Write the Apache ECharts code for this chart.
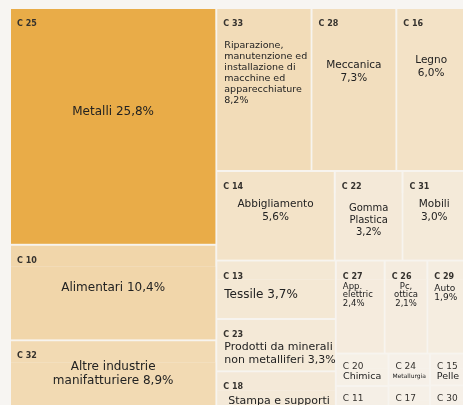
<!DOCTYPE html>
<html>
<head>
<meta charset="utf-8">
<script src="https://cdn.jsdelivr.net/npm/echarts@6/dist/echarts.min.js"></script>
<style>
  html, body { margin: 0; padding: 0; background: #f7f5f2; }
  #chart { width: 463px; height: 405px; }
</style>
</head>
<body>
<div id="chart"></div>
<script>
// codici ATECO nell'ordine in cui vengono disposti
var codes = ['C 25', 'C 10', 'C 32', 'C 33', 'C 28', 'C 16', 'C 14', 'C 22', 'C 31',
  'C 13', 'C 23', 'C 18', 'C 27', 'C 26', 'C 29', 'C 20', 'C 11', 'C 24', 'C 17', 'C 15', 'C 30'];
var labels = ['Metalli 25,8%', 'Alimentari 10,4%', 'Altre industrie\nmanifatturiere 8,9%',
  'Riparazione,\nmanutenzione ed\ninstallazione di\nmacchine ed\napparecchiature\n8,2%',
  'Meccanica\n7,3%', 'Legno\n6,0%', 'Abbigliamento\n5,6%', 'Gomma\nPlastica\n3,2%', 'Mobili\n3,0%',
  'Tessile 3,7%', 'Prodotti da minerali\nnon metalliferi 3,3%', 'Stampa e supporti\nregistrati 3,2%',
  'App.\nelettric\n2,4%', 'Pc,\nottica\n2,1%', 'Auto\n1,9%',
  'Chimica', 'Bevande', 'Metallurgia', 'Carta', 'Pelle', 'Altro'];
// quota % (le ultime sei stimate dall'area)
var shares = [25.8, 10.4, 8.9, 8.2, 7.3, 6.0, 5.6, 3.2, 3.0,
  3.7, 3.3, 3.2, 2.4, 2.1, 1.9, 0.9, 1.0, 0.7, 0.8, 0.6, 0.7];
// blocchi: fascia centrale e parte bassa a destra
var midBlock = ['C 14', 'C 22', 'C 31'];
var lowBlock = ['C 13', 'C 23', 'C 18', 'C 27', 'C 26', 'C 29', 'C 20', 'C 11', 'C 24', 'C 17', 'C 15', 'C 30'];

var sep = '#f7f4ef';
var light = [246, 242, 236], strong = [233, 172, 72];

// stile etichette per cella
var cellStyle = {
  'C 25': { size: 12, y: '38.5%' },
  'C 10': { size: 12, y: '29%' },
  'C 32': { size: 12, y: '19%' },
  'C 33': { size: 9.5, lh: 11, y: '30.7%', x: 7, align: 'left' },
  'C 28': { y: '30%' },
  'C 16': { y: '26%' },
  'C 14': { y: '26%' },
  'C 22': { size: 10, y: '41%' },
  'C 31': { y: '26%' },
  'C 13': { size: 12, y: '40%', x: 7, align: 'left', band: 18 },
  'C 23': { size: 11, lh: 12.5, y: '48%', x: 7, align: 'left', band: 18 },
  'C 18': { size: 11, lh: 12.5, y: '55%', x: 11, align: 'left', band: 18 },
  'C 27': { size: 8.5, lh: 8.5, y: '21%', x: 6, align: 'left', band: 18 },
  'C 26': { size: 8.5, lh: 8.5, y: '21%', band: 18 },
  'C 29': { size: 9, lh: 9, y: '19%', x: 6, align: 'left', band: 18 },
  'C 20': { small: true },
  'C 11': { small: true },
  'C 24': { small: true, size: 6 },
  'C 17': { small: true },
  'C 15': { small: true },
  'C 30': { small: true }
};

function styleOf(code) {
  var s = Object.assign({ size: 10.5, y: '30%', x: '50%', align: 'center', band: 21, codeY: 15 }, cellStyle[code] || {});
  if (s.small) {
    s.band = 14; s.codeY = 12; s.y = '50%';
    if (!cellStyle[code].size) s.size = 9.5;
  }
  if (!s.lh) s.lh = Math.round(s.size * 1.2);
  return s;
}

function shade(v) {
  var t = v / 25.8;
  var c = light.map(function (a, k) { return Math.round(a + (strong[k] - a) * t); });
  return 'rgb(' + c.join(',') + ')';
}

function node(code) {
  var i = codes.indexOf(code);
  var s = styleOf(code);
  var col = shade(shares[i]);
  return {
    name: code,
    itemStyle: { color: col, borderColor: col, borderWidth: 0, gapWidth: 0 },
    upperLabel: {
      show: true,
      height: s.band,
      position: [6, s.codeY],
      align: 'left',
      verticalAlign: 'middle',
      padding: 0,
      overflow: 'none',
      color: '#35322e',
      fontFamily: 'DejaVu Sans',
      fontWeight: s.small ? 'normal' : 'bold',
      fontSize: s.small ? 9 : 8,
      formatter: '{b}'
    },
    children: [{
      name: labels[i],
      value: shares[i],
      itemStyle: { color: col, borderWidth: 0 },
      label: {
        show: true,
        position: [s.x, s.y],
        align: s.align,
        verticalAlign: 'middle',
        padding: 0,
        overflow: 'none',
        color: '#222',
        fontFamily: 'DejaVu Sans',
        fontSize: s.size,
        lineHeight: s.lh,
        formatter: '{b}'
      }
    }]
  };
}

var groupStyle = { color: sep, borderColor: sep, borderWidth: 0, gapWidth: 2 };
var topCells = codes.filter(function (c) {
  return midBlock.indexOf(c) < 0 && lowBlock.indexOf(c) < 0;
}).map(node);
var low = { name: 'basso', itemStyle: groupStyle, children: lowBlock.map(node) };
var mid = { name: 'medio', itemStyle: groupStyle, children: midBlock.map(node).concat([low]) };

var chart = echarts.init(document.getElementById('chart'));
chart.setOption({
  backgroundColor: '#f7f5f2',
  animation: false,
  series: [{
    type: 'treemap',
    left: 11,
    top: 9,
    width: 454,
    height: 412,
    sort: false,
    roam: false,
    nodeClick: false,
    silent: true,
    drillDownIcon: '',
    visibleMin: 0,
    breadcrumb: { show: false },
    itemStyle: { borderWidth: 0, gapWidth: 2, borderColor: sep },
    label: { show: true, padding: 0 },
    upperLabel: { show: false },
    data: topCells.concat([mid])
  }]
});
</script>
</body>
</html>
